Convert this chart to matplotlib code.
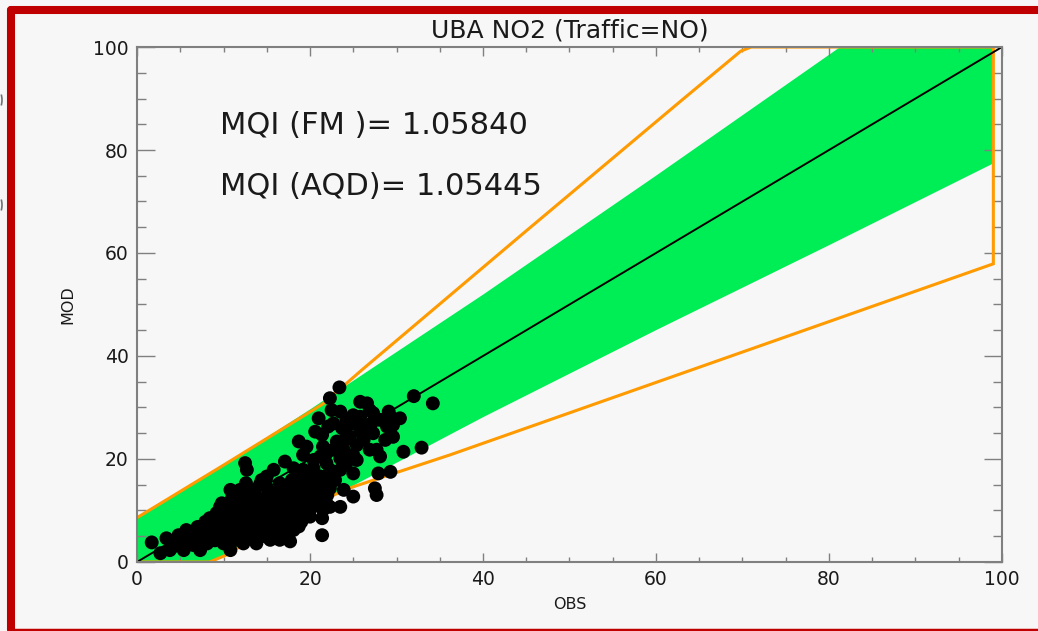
import matplotlib
matplotlib.use('Agg')
import matplotlib.pyplot as plt
from matplotlib.patches import Arc
from matplotlib.lines import Line2D
from matplotlib.ticker import MultipleLocator
import numpy as np

obs = [23.4, 22.3, 25.8, 22.5, 23.5, 26.9, 25.0, 29.1, 32.0, 34.2,
       30.4, 21.0, 29.6, 29.6, 27.1, 23.7, 20.6, 22.1, 25.8, 18.7,
       21.5, 23.1, 25.4, 27.7, 28.1, 30.8, 32.9, 19.2, 21.2, 23.5,
       25.0, 27.9, 29.3, 27.5, 27.7, 25.0, 23.9, 23.5, 22.3, 21.4,
       21.4, 19.0, 17.7, 10.8, 12.5, 12.7, 12.6, 10.8, 9.8, 15.8,
       17.1, 18.1, 19.4, 20.4, 22.3, 22.3, 20.8, 18.8, 21.0, 20.0,
       1.7, 3.4, 4.8, 2.7, 4.2, 6.1, 7.3, 8.1, 8.4, 9.6,
       19.6, 20.4, 21.9, 22.7, 24.1, 24.6, 26.2, 24.2, 21.9, 25.4,
       23.5, 22.9, 21.2, 20.0, 25.0, 26.2, 27.3, 28.1, 28.9, 27.3,
       21.4, 22.7, 24.2, 25.0, 24.2, 25.8, 26.6, 29.3, 28.7, 26.9,
       23.9,
       5.4, 6.5, 7.3, 8.4, 8.6, 9.0, 9.6, 10.0, 10.6, 10.9,
       11.1, 11.5, 11.9, 12.3, 12.7, 13.1, 13.4, 13.8, 14.0, 14.2,
       14.6, 14.8, 15.2, 15.4, 15.8, 16.1, 16.5, 16.5, 16.9, 17.3,
       17.5, 17.9, 18.1, 18.3, 18.5, 18.8, 19.2, 19.2, 19.6, 19.8,
       20.0, 20.4, 21.2, 21.5, 21.9, 11.9, 13.1, 13.8, 14.6, 15.0,
       15.6, 16.0, 16.5, 17.3, 17.7, 18.1, 18.5, 18.8, 9.2, 10.4,
       8.1, 5.7, 3.8, 5.0, 10.0, 11.5, 12.7, 13.4, 13.6, 14.2,
       15.0, 16.3, 16.9, 17.9, 18.7, 10.8, 12.3, 13.8, 15.4, 16.5,
       11.1, 12.3, 13.1, 14.2, 15.8, 16.9, 11.9, 10.4, 9.2, 7.9,
       6.9, 5.7, 11.9, 15.0, 14.4,
       6.0, 7.0, 7.0, 8.0, 8.0, 9.0, 9.0, 10.0, 10.0, 10.0,
       11.0, 11.0, 11.0, 11.0, 12.0, 12.0, 12.0, 12.0, 13.0, 13.0,
       13.0, 13.0, 14.0, 14.0, 14.0, 14.0, 15.0, 15.0, 15.0, 15.0,
       15.0, 16.0, 16.0, 16.0, 16.0, 17.0, 17.0, 17.0, 18.0, 18.0,
       19.0, 19.0, 20.0, 20.0, 20.0, 21.0, 21.0, 22.0, 22.0]
mod = [33.9, 31.8, 31.1, 29.5, 29.2, 29.5, 28.5, 29.2, 32.2, 30.8,
       27.9, 27.9, 26.6, 24.3, 26.9, 26.0, 25.3, 26.3, 25.3, 23.4,
       22.4, 23.4, 22.7, 21.8, 20.5, 21.4, 22.2, 20.8, 20.5, 20.1,
       20.8, 17.2, 17.5, 14.3, 13.0, 12.7, 14.0, 10.7, 10.7, 8.5,
       5.2, 7.8, 4.0, 2.3, 19.2, 17.9, 15.3, 14.0, 11.4, 17.9,
       19.5, 18.2, 17.2, 18.2, 17.9, 14.3, 14.6, 12.7, 12.4, 10.1,
       3.8, 4.6, 5.2, 1.7, 3.0, 5.6, 6.2, 3.6, 8.5, 10.7,
       22.4, 19.8, 21.1, 21.8, 23.7, 24.3, 23.7, 19.2, 19.2, 19.8,
       17.9, 15.9, 16.6, 15.9, 17.2, 26.0, 25.0, 27.6, 26.3, 28.9,
       24.7, 26.9, 27.6, 26.9, 25.0, 28.2, 30.8, 28.2, 23.7, 21.8,
       21.8,
       2.3, 3.3, 2.3, 6.9, 4.3, 8.5, 5.6, 7.5, 3.3, 8.8,
       11.4, 6.2, 9.5, 12.0, 7.5, 4.9, 10.1, 12.7, 8.2, 15.0,
       6.2, 10.7, 13.3, 8.8, 4.9, 11.4, 15.3, 6.9, 10.1, 12.7,
       8.2, 15.9, 6.2, 11.4, 14.0, 8.8, 17.9, 12.0, 15.3, 10.1,
       14.0, 11.4, 12.7, 10.1, 11.4, 6.9, 8.8, 10.7, 8.8, 7.5,
       12.7, 7.5, 12.7, 9.5, 11.7, 8.8, 10.7, 15.9, 6.9, 5.6,
       4.9, 3.9, 2.3, 3.6, 3.6, 4.3, 11.4, 13.3, 6.9, 4.9,
       4.9, 9.5, 5.6, 13.7, 6.9, 4.3, 3.6, 3.6, 4.3, 4.3,
       7.5, 8.2, 6.9, 10.1, 9.5, 7.5, 4.9, 9.5, 9.5, 7.8,
       4.9, 6.2, 14.0, 16.6, 15.9,
       4.5, 4.0, 6.8, 5.8, 7.5, 4.2, 6.0, 5.0, 9.0, 10.5,
       5.0, 7.0, 9.8, 12.5, 5.5, 8.0, 10.5, 13.0, 6.0, 8.0,
       11.0, 14.0, 5.5, 7.5, 9.5, 11.8, 6.0, 8.0, 10.0, 12.0,
       14.5, 5.5, 8.5, 10.5, 13.5, 7.0, 11.0, 14.0, 9.5, 12.5,
       10.5, 14.5, 8.8, 12.8, 16.5, 11.0, 15.5, 13.0, 16.0]

# Green acceptance band (upper and lower edges)
band_obs_up = [0, 10, 20, 40, 60, 81.3, 99]
band_up = [8.6, 18.8, 29.6, 51.9, 75.0, 100, 100]
band_obs_lo = [0, 8.8, 12, 20, 40, 60, 80, 99]
band_lo = [0, 0, 3.1, 10.4, 28.1, 45.0, 61.5, 77.4]

# Orange outline
outline_obs = [0, 10, 21.5, 26, 45, 63, 69.8, 71, 99, 99, 36.2, 25, 21.9, 17.9, 12, 10.4, 8.4, 0]
outline_mod = [8.6, 18.8, 30.7, 37.3, 64.3, 89.7, 99.2, 100, 100, 57.9, 20.8, 14.6, 12.4, 8.8, 3.1, 1.4, 0, 0]

diag = [0, 100]

title = 'UBA NO2 (Traffic=NO)'
mqi_fm = 'MQI (FM )= 1.05840'
mqi_aqd = 'MQI (AQD)= 1.05445'

bg = '#f7f7f7'
axis_col = '#808080'
red = '#c00000'

fig = plt.figure(figsize=(10.38, 6.31), dpi=100, facecolor=bg)
ax = fig.add_axes([0.132, 0.1094, 0.8333, 0.8161], facecolor=bg)

# band polygon
px = np.concatenate([band_obs_up, band_obs_lo[::-1]])
py = np.concatenate([band_up, band_lo[::-1]])
ax.fill(px, py, color='#00ee55', lw=0, zorder=1)

ax.plot(outline_obs, outline_mod, color='#ff9a00', lw=2.2, zorder=2, solid_joinstyle='miter')
ax.plot(diag, diag, color='black', lw=1.4, zorder=3)
ax.scatter(obs, mod, s=100, color='black', edgecolors='none', zorder=4)

ax.text(9.6, 84.7, mqi_fm, fontsize=22, color='#1a1a1a', va='center', ha='left')
ax.text(9.6, 73.0, mqi_aqd, fontsize=22, color='#1a1a1a', va='center', ha='left')

ax.set_xlim(0, 100)
ax.set_ylim(0, 100)
ax.set_xticks(np.arange(0, 101, 20))
ax.set_yticks(np.arange(0, 101, 20))
ax.xaxis.set_minor_locator(MultipleLocator(5))
ax.yaxis.set_minor_locator(MultipleLocator(5))

for s in ax.spines.values():
    s.set_color(axis_col)
    s.set_linewidth(1.5)
    s.set_zorder(5)

ax.tick_params(axis='x', which='major', direction='in', length=6.5, width=1, color=axis_col,
               top=True, labelsize=13.5, labelcolor='#1a1a1a', pad=6)
ax.tick_params(axis='x', which='minor', direction='in', length=3.6, width=1, color=axis_col, top=True)
ax.tick_params(axis='y', which='major', direction='in', length=13, width=1, color=axis_col,
               right=True, labelsize=13.5, labelcolor='#1a1a1a', pad=6)
ax.tick_params(axis='y', which='minor', direction='in', length=6.5, width=1, color=axis_col, right=True)

ax.set_title(title, fontsize=18, color='#1a1a1a', pad=7)
ax.set_xlabel('OBS', fontsize=11.5, color='#1a1a1a')
ax.set_ylabel('MOD', fontsize=11.5, color='#1a1a1a')
ax.xaxis.set_label_coords(0.5, -0.068)
ax.yaxis.set_label_coords(-0.0717, 0.5)

# red slide frame: top, left and bottom strips, each kept inside the canvas
W, H = 1038, 631
fx = 11 / W
fig.add_artist(Line2D([fx, 1.0], [1 - 9.5 / H] * 2, transform=fig.transFigure,
                      color=red, lw=5.8, solid_capstyle='round'))
fig.add_artist(Line2D([fx, fx], [1 - 9.5 / H, 1 - 629.5 / H], transform=fig.transFigure,
                      color=red, lw=5.8, solid_capstyle='round'))
fig.add_artist(Line2D([fx, 1.0], [1 - 629.5 / H] * 2, transform=fig.transFigure,
                      color=red, lw=2.5, solid_capstyle='butt'))

# bits of the neighbouring slide at the left edge
for yc in (100, 205):
    fig.add_artist(Arc((-4 / W, 1 - yc / H), 12 / W, 22 / H, theta1=-60, theta2=60,
                       transform=fig.transFigure, color='#707070', lw=1.2))

fig.savefig('out.png', dpi=100, facecolor=bg)
